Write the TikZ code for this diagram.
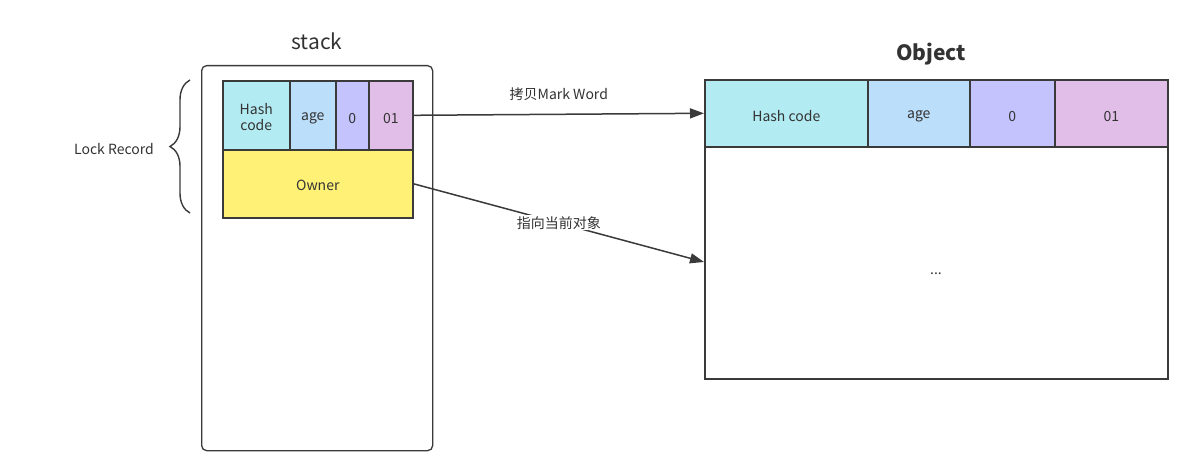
\documentclass[tikz,border=0pt]{standalone}
\usepackage{fontspec}
\setmainfont{Noto Sans CJK SC}
\usetikzlibrary{arrows.meta,decorations.pathreplacing}
\definecolor{ln}{HTML}{3A3A3A}
\definecolor{txt}{HTML}{333333}
\definecolor{cHash}{HTML}{B2EBF2}
\definecolor{cAge}{HTML}{BBDEFB}
\definecolor{cZero}{HTML}{C5C3FE}
\definecolor{cOne}{HTML}{E1BEE7}
\definecolor{cOwner}{HTML}{FFF176}
\tikzset{
  cell/.style={draw=ln, line width=1.6pt, inner sep=0pt, anchor=north west},
  lbl/.style={text=txt, font=\fontsize{14}{16}\selectfont, inner sep=1pt, align=center},
  conn/.style={draw=ln, line width=1.5pt, -{Triangle[length=14pt,width=10pt]}},
}
\begin{document}
\begin{tikzpicture}[x=1pt,y=-1pt]
\useasboundingbox (0,0) rectangle (1189,476);
% stack
\node[text=txt, font=\fontsize{21}{24}\selectfont] (stacklbl) at (317,41) {stack};
\node[draw=ln, line width=1.3pt, rounded corners=5pt, minimum width=231pt, minimum height=385pt, anchor=north west, inner sep=0pt] (stack) at (201,65) {};
% lock record cells
\node[cell, fill=cHash, minimum width=67pt, minimum height=69pt] (lhash) at (222,80) {};
\node[cell, fill=cAge, minimum width=46pt, minimum height=69pt] (lage) at (289,80) {};
\node[cell, fill=cZero, minimum width=33pt, minimum height=69pt] (lzero) at (335,80) {};
\node[cell, fill=cOne, minimum width=44pt, minimum height=69pt] (lone) at (368,80) {};
\node[cell, fill=cOwner, minimum width=190pt, minimum height=68pt] (owner) at (222,149) {};
\node[lbl] (thash) at ([yshift=-2pt]lhash.center) {Hash\\code};
\node[lbl] (tage) at ([yshift=-3pt]lage.center) {age};
\node[lbl] (tzero) at ([yshift=-3pt]lzero.center) {0};
\node[lbl] (tone) at ([yshift=-3pt]lone.center) {01};
\node[lbl] (towner) at ([yshift=-2pt]owner.center) {Owner};
% brace
\draw[ln, line width=1.4pt, decorate, decoration={brace, amplitude=20pt, aspect=0.5}] (190,213) -- (190,80) coordinate[midway] (bmid);
\node[lbl, anchor=center] (lock) at (114,149) {Lock Record};
% object
\node[text=txt, font=\fontsize{21}{24}\selectfont\bfseries] (objlbl) at (931,54) {Object};
\node[cell, fill=cHash, minimum width=163pt, minimum height=67pt] (ohash) at (704,79) {};
\node[cell, fill=cAge, minimum width=102pt, minimum height=67pt] (oage) at (867,79) {};
\node[cell, fill=cZero, minimum width=85pt, minimum height=67pt] (ozero) at (969,79) {};
\node[cell, fill=cOne, minimum width=113pt, minimum height=67pt] (oone) at (1054,79) {};
\node[cell, fill=white, minimum width=463pt, minimum height=232pt] (obody) at (704,146) {};
\node[lbl] (tohash) at ([yshift=-3pt]ohash.center) {Hash code};
\node[lbl] (toage) at ([yshift=-3pt]oage.center) {age};
\node[lbl] (tozero) at ([yshift=-3pt]ozero.center) {0};
\node[lbl] (toone) at ([yshift=-3pt]oone.center) {01};
\node[lbl] (dots) at (936,274) {...};
% connectors
\draw[conn] (lone.east) -- (ohash.west) node[lbl, midway, above=12pt] (l1) {拷贝Mark Word};
\coordinate (tgt) at (704,262);
\draw[conn] (owner.east) -- (tgt) node[lbl, pos=0.5, fill=white, inner sep=1pt] (l2) {指向当前对象};
\end{tikzpicture}
\end{document}
